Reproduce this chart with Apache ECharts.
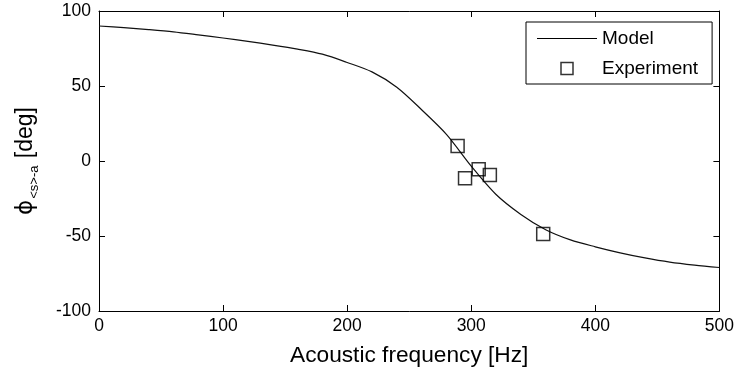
<!DOCTYPE html>
<html>
<head>
<meta charset="utf-8">
<script src="https://cdn.jsdelivr.net/npm/echarts@6/dist/echarts.min.js"></script>
<style>html,body{margin:0;padding:0;background:#fff;}#c{width:737px;height:378px;}</style>
</head>
<body>
<div id="c"></div>
<script>
var modelX = [0, 20, 40, 60, 80, 100, 120, 140, 160, 180, 200, 220, 240, 260, 280, 300, 320, 340, 360, 380, 400, 420, 440, 460, 480, 500];
var modelY = [90, 88.9, 87.6, 86.1, 84.1, 82, 79.7, 77.3, 74.6, 71.2, 65.7, 59.4, 49.2, 34.2, 17.8, -3.4, -22.3, -35.6, -45.8, -52.6, -57.2, -61.2, -64.6, -67.4, -69.4, -71];
var expX = [289, 295, 306, 315, 358];
var expY = [10, -11.5, -5.5, -9.3, -48.7];
var xTicks = [0, 100, 200, 300, 400, 500];
var yTicks = [-100, -50, 0, 50, 100];

var FONT = 'Liberation Sans, Arial, sans-serif';
var chart = echarts.init(document.getElementById('c'), null, {renderer: 'canvas'});

function zip(a, b) { return a.map(function (v, i) { return [v, b[i]]; }); }

var axisLine = {show: true, onZero: false, lineStyle: {color: '#000', width: 1}};
var axisTick = {show: true, inside: true, length: 6, lineStyle: {color: '#000', width: 1}};

chart.setOption({
  animation: false,
  backgroundColor: '#fff',
  grid: {left: 99, top: 11, width: 621, height: 300, containLabel: false},
  xAxis: [{
    type: 'value', min: 0, max: 500, interval: 100, position: 'bottom',
    axisLine: axisLine, axisTick: axisTick, splitLine: {show: false},
    axisLabel: {margin: 6, color: '#000', fontFamily: FONT, fontSize: 17.5,
      formatter: function (v) { return xTicks.indexOf(v) >= 0 ? String(v) : ''; }},
    name: 'Acoustic frequency [Hz]', nameLocation: 'middle', nameGap: 33,
    nameTextStyle: {color: '#000', fontFamily: FONT, fontSize: 22.7}
  }, {
    type: 'value', min: 0, max: 500, interval: 100, position: 'top',
    axisLine: axisLine, axisTick: axisTick, splitLine: {show: false}, axisLabel: {show: false}
  }],
  yAxis: [{
    type: 'value', min: -100, max: 100, interval: 50, position: 'left',
    axisLine: axisLine, axisTick: axisTick, splitLine: {show: false},
    axisLabel: {margin: 8, color: '#000', fontFamily: FONT, fontSize: 17.5,
      formatter: function (v) { return yTicks.indexOf(v) >= 0 ? String(v) : ''; }},
    name: '{phi|ϕ}{sub|<s>-a}{n| [deg]}', nameLocation: 'middle', nameGap: 58,
    nameTextStyle: {
      color: '#000', fontFamily: FONT, fontSize: 23,
      rich: {
        phi: {fontSize: 23, fontFamily: 'DejaVu Sans, ' + FONT, color: '#000', lineHeight: 30, verticalAlign: 'middle'},
        sub: {fontSize: 13, fontFamily: FONT, color: '#000', lineHeight: 13, verticalAlign: 'bottom', padding: [0, 1, 0, 1]},
        n: {fontSize: 23, fontFamily: FONT, color: '#000', lineHeight: 30, verticalAlign: 'middle'}
      }
    }
  }, {
    type: 'value', min: -100, max: 100, interval: 50, position: 'right',
    axisLine: axisLine, axisTick: axisTick, splitLine: {show: false}, axisLabel: {show: false}
  }],
  legend: {
    show: true, orient: 'vertical', left: 526, top: 22,
    borderColor: '#000', borderWidth: 1, backgroundColor: '#fff',
    padding: [7, 14, 6, 11], itemGap: 11, itemWidth: 60, itemHeight: 12,
    textStyle: {color: '#000', fontFamily: FONT, fontSize: 19},
    data: [
      {name: 'Model', icon: 'path://M0,0H60V1H0Z', itemStyle: {color: '#000', borderWidth: 0}},
      {name: 'Experiment', icon: 'path://M0,0H10V10H0Z', itemStyle: {color: 'rgba(0,0,0,0)', borderColor: '#000', borderWidth: 1.5}}
    ]
  },
  series: [{
    name: 'Model', type: 'line', data: zip(modelX, modelY), smooth: 0.3,
    symbol: 'none', showSymbol: false,
    lineStyle: {color: '#111', width: 1.2}, itemStyle: {color: '#111'}, z: 2
  }, {
    name: 'Experiment', type: 'scatter', data: zip(expX, expY),
    symbol: 'rect', symbolSize: 13,
    itemStyle: {color: 'rgba(0,0,0,0)', borderColor: '#000', borderWidth: 1.5}, z: 3
  }]
});
</script>
</body>
</html>
